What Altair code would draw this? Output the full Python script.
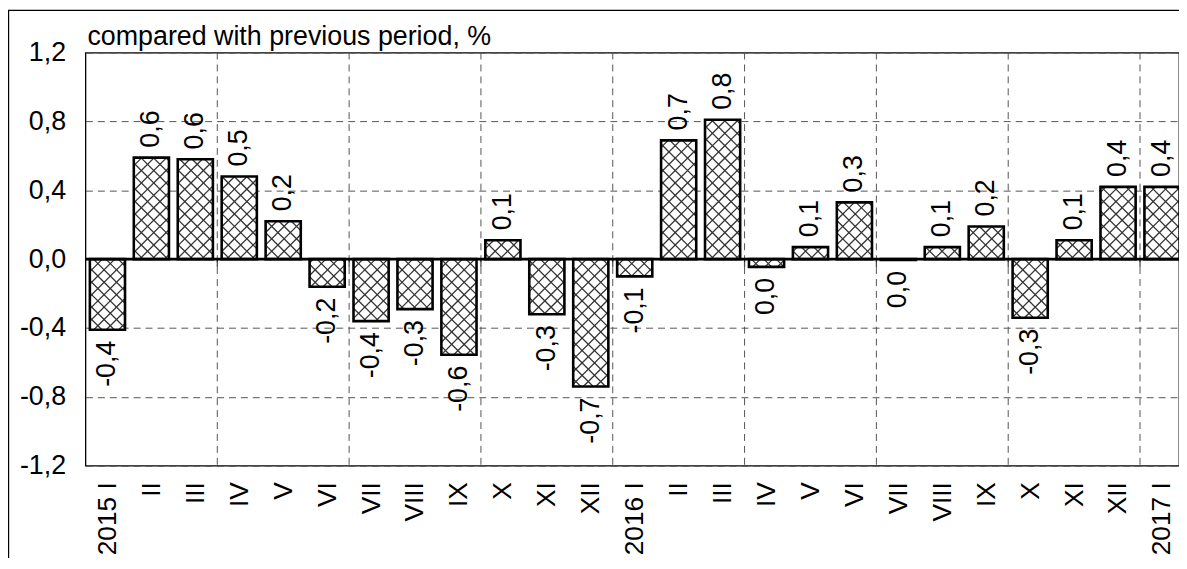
import math
import altair as alt
import pandas as pd

# ---- data ----
periods = ["2015 I", "II", "III", "IV", "V", "VI", "VII", "VIII", "IX", "X", "XI", "XII",
           "2016 I", "II", "III", "IV", "V", "VI", "VII", "VIII", "IX", "X", "XI", "XII",
           "2017 I"]
values = [-0.41, 0.59, 0.58, 0.48, 0.22, -0.16, -0.36, -0.29, -0.555, 0.11, -0.32, -0.74,
          -0.10, 0.69, 0.81, -0.045, 0.07, 0.33, -0.005, 0.07, 0.19, -0.34, 0.11, 0.42,
          0.42]
y_ticks = [-1.2, -0.8, -0.4, 0.0, 0.4, 0.8, 1.2]
grid_positions = [3, 6, 9, 12, 15, 18, 21, 24]
title_text = "compared with previous period, %"

# ---- layout ----
FONT = "Liberation Sans, Arial, Helvetica, sans-serif"
FS = 27
W, H = 1101, 416
BW = 44.24            # pixel width of one month band
KY = H / 2.4          # pixels per unit on y
PAD = 0.1             # band padding each side
D = 12.5              # hatch spacing in px


def fmt(v):
    s = f"{v:.1f}"
    if s == "-0.0":
        s = "0.0"
    return s.replace(".", ",")


bars = pd.DataFrame({
    "period": periods,
    "value": values,
    "x0": [i + PAD for i in range(len(values))],
    "x1": [i + 1 - PAD for i in range(len(values))],
    "xc": [i + 0.5 for i in range(len(values))],
    "zero": [0.0] * len(values),
    "label": [fmt(v) for v in values],
})

# hatch segments derived from the bar values (cross-hatch pattern)
segs = []
for i, v in enumerate(values):
    x0 = (i + PAD) * BW
    x1 = (i + 1 - PAD) * BW
    yt = (1.2 - max(v, 0)) * KY
    yb = (1.2 - min(v, 0)) * KY
    # family x + y = c
    k = math.ceil((x0 + yt) / D)
    while k * D <= x1 + yb:
        c = k * D
        lo = max(x0, c - yb)
        hi = min(x1, c - yt)
        if hi - lo > 0.3:
            segs.append((lo, c - lo, hi, c - hi))
        k += 1
    # family y = x - c
    k = math.ceil((x0 - yb) / D)
    while k * D <= x1 - yt:
        c = k * D
        lo = max(x0, yt + c)
        hi = min(x1, yb + c)
        if hi - lo > 0.3:
            segs.append((lo, lo - c, hi, hi - c))
        k += 1
hatch = pd.DataFrame({
    "hx": [s[0] / BW for s in segs],
    "hy": [1.2 - s[1] / KY for s in segs],
    "hx2": [s[2] / BW for s in segs],
    "hy2": [1.2 - s[3] / KY for s in segs],
})

grid_df = pd.DataFrame({"g": grid_positions, "z": [0.0] * len(grid_positions)})
one = pd.DataFrame({"a": [0]})

xscale = alt.Scale(domain=[0, W / BW], nice=False, zero=False)
yscale = alt.Scale(domain=[-1.2, 1.2], nice=False, zero=False)

label_array = "[" + ",".join("'" + p + "'" for p in periods) + "]"
xaxis = alt.Axis(values=[i + 0.5 for i in range(len(periods))],
                 labelExpr=label_array + "[floor(datum.value)]",
                 title=None, grid=False, ticks=False, tickSize=0, domain=False,
                 labelAngle=270, labelAlign="right", labelBaseline="middle",
                 labelFont=FONT, labelFontSize=26.5, labelColor="black",
                 labelPadding=16, labelOverlap=False, labelFlush=False)
yaxis = alt.Axis(values=y_ticks,
                 labelExpr="replace(replace(format(datum.value, '.1f'), '.', ','), '\u2212', '-')",
                 title=None, grid=True, gridColor="#555555", gridDash=[7, 5], gridWidth=1,
                 ticks=False, tickSize=0, domain=False,
                 labelFont=FONT, labelFontSize=FS, labelColor="black", labelPadding=20)


def X(f):
    return alt.X(f, type="quantitative", scale=xscale, axis=xaxis)


def Y(f):
    return alt.Y(f, type="quantitative", scale=yscale, axis=yaxis)


vgrid = alt.Chart(grid_df).mark_rule(color="#555555", strokeDash=[7, 5], strokeWidth=1).encode(
    x=X("g"))

bar_fill = alt.Chart(bars).mark_rect(fill="white", strokeWidth=0).encode(
    x=X("x0"), x2="x1", y=Y("zero"), y2="value")

hatch_layer = alt.Chart(hatch).mark_rule(color="#333333", strokeWidth=1.3).encode(
    x=X("hx"), y=Y("hy"), x2="hx2", y2="hy2")

bar_outline = alt.Chart(bars).mark_rect(filled=False, stroke="black", strokeWidth=2.6).encode(
    x=X("x0"), x2="x1", y=Y("zero"), y2="value")

zero_rule = alt.Chart(one.assign(z=0.0)).mark_rule(color="black", strokeWidth=2.7).encode(
    y=Y("z"))

zero_ticks = alt.Chart(grid_df).mark_tick(orient="vertical", size=8, thickness=1.3,
                                          color="black", yOffset=4).encode(
    x=X("g"), y=Y("z"))

pos_labels = alt.Chart(bars).transform_filter("datum.value >= 0").mark_text(
    angle=270, align="left", baseline="middle", dx=10, font=FONT, fontSize=FS,
    color="black").encode(x=X("xc"), y=Y("value"), text="label:N")

neg_labels = alt.Chart(bars).transform_filter("datum.value < 0").mark_text(
    angle=270, align="right", baseline="middle", dx=-11, font=FONT, fontSize=FS,
    color="black").encode(x=X("xc"), y=Y("value"), text="label:N")

title = alt.Chart(one).mark_text(align="left", baseline="alphabetic", font=FONT,
                                 fontSize=FS, color="black").encode(
    x=alt.value(2), y=alt.value(-8), text=alt.value(title_text))

frame = alt.Chart(one).mark_rect(filled=False, stroke="black", strokeWidth=1.2).encode(
    x=alt.value(-77.4), x2=alt.value(W + 40), y=alt.value(-42.4), y2=alt.value(H + 200))

chart = alt.layer(
    vgrid, bar_fill, hatch_layer, bar_outline, zero_rule, zero_ticks,
    pos_labels, neg_labels, title, frame
).properties(
    width=W, height=H,
    padding={"left": 78, "top": 43, "right": 0, "bottom": 91},
    autosize=alt.AutoSizeParams(type="none"),
    background="white",
).configure_view(stroke="black", strokeWidth=1.3)

chart.save("out.html", embed_options={"renderer": "svg", "actions": False})
